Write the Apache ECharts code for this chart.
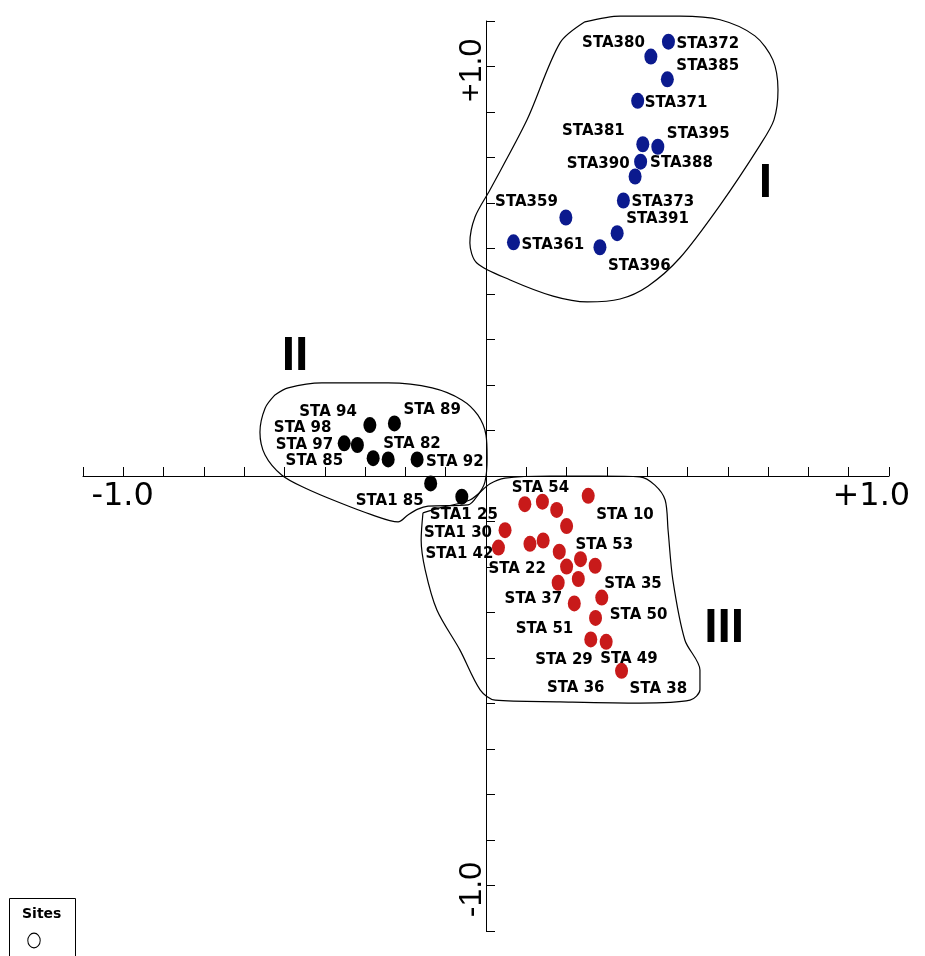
<!DOCTYPE html>
<html>
<head>
<meta charset="utf-8">
<script src="https://cdn.jsdelivr.net/npm/echarts@6/dist/echarts.min.js"></script>
<style>html,body{margin:0;padding:0;background:#fff}#c{width:925px;height:956px}</style>
</head>
<body>
<div id="c"></div>
<script>
// ---- axis ticks / labels ----
const axisTicks = [-1.1,-0.99,-0.88,-0.77,-0.66,-0.55,-0.44,-0.33,-0.22,-0.11,0,0.11,0.22,0.33,0.44,0.55,0.66,0.77,0.88,0.99,1.1];
const tickLabelValues = [-1, 1];
const tickLabels = ['-1.0', '+1.0'];

// ---- group I (blue) ----
const groupINames = ['STA372','STA380','STA385','STA371','STA381','STA395','STA390','STA388','STA373','STA359','STA391','STA361','STA396'];
const groupIX = [0.498,0.450,0.495,0.414,0.428,0.469,0.422,0.407,0.375,0.218,0.358,0.075,0.311];
const groupIY = [1.050,1.014,0.959,0.907,0.802,0.796,0.760,0.724,0.666,0.625,0.587,0.565,0.553];

// ---- group II (black) ----
const groupIINames = ['STA 94','STA 89','STA 97','STA 98','STA 85','STA 82','STA 92','STA1 85',''];
const groupIIX = [-0.317,-0.250,-0.387,-0.351,-0.308,-0.267,-0.188,-0.151,-0.066];
const groupIIY = [0.123,0.127,0.079,0.075,0.043,0.040,0.040,-0.018,-0.050];

// ---- group III (red) ----
const groupIIINames = ['STA1 25','STA 54','','STA 10','','STA1 30','STA1 42','STA 22','','','STA 53','STA 35','','','STA 37','STA 50','STA 51','STA 36','STA 29','STA 49','STA 38'];
const groupIIIX = [0.106,0.154,0.193,0.279,0.220,0.052,0.034,0.120,0.156,0.200,0.258,0.298,0.220,0.252,0.197,0.316,0.241,0.299,0.286,0.328,0.370];
const groupIIIY = [-0.068,-0.062,-0.082,-0.048,-0.121,-0.131,-0.173,-0.164,-0.156,-0.183,-0.201,-0.217,-0.219,-0.249,-0.258,-0.294,-0.308,-0.343,-0.395,-0.401,-0.471];

// ---- group outlines (data space) ----
const outlineIX = [0.270,0.366,0.529,0.639,0.734,0.783,0.797,0.786,0.748,0.639,0.529,0.442,0.366,0.276,0.183,0.066,-0.025,-0.044,-0.030,0.011,0.112,0.202,0.270];
const outlineIY = [1.098,1.112,1.112,1.103,1.064,1.006,0.933,0.861,0.800,0.655,0.527,0.459,0.428,0.421,0.435,0.474,0.515,0.563,0.626,0.692,0.861,1.047,1.098];
const outlineIIX = [-0.576,-0.540,-0.448,-0.267,-0.147,-0.066,-0.022,0.000,0.003,-0.003,-0.022,-0.049,-0.158,-0.186,-0.213,-0.240,-0.311,-0.404,-0.494,-0.557,-0.603,-0.617,-0.603,-0.576];
const outlineIIY = [0.196,0.213,0.225,0.225,0.213,0.184,0.147,0.099,0.044,-0.015,-0.046,-0.070,-0.073,-0.080,-0.094,-0.111,-0.094,-0.063,-0.029,0.002,0.051,0.106,0.164,0.196];
const outlineIIIX = [-0.172,-0.126,-0.044,0.011,0.052,0.175,0.311,0.420,0.461,0.489,0.497,0.510,0.543,0.584,0.584,0.557,0.420,0.202,0.025,-0.016,-0.071,-0.134,-0.166,-0.177,-0.172];
const outlineIIIY = [-0.089,-0.077,-0.058,-0.019,-0.005,0.000,0.000,-0.002,-0.022,-0.058,-0.131,-0.251,-0.397,-0.469,-0.517,-0.542,-0.549,-0.546,-0.542,-0.517,-0.421,-0.324,-0.227,-0.155,-0.089];

// ---- group names ----
const groupLabels = ['I','II','III'];
const groupLabelX = [0.763,-0.521,0.650];
const groupLabelY = [0.706,0.288,-0.369];

// ---- label placement (styling: pixel offset from point, text anchor) ----
const groupILabelPos = [[8,2,'left'],[-6,-13,'right'],[9,-13,'left'],[7,2,'left'],[-18,-13,'right'],[9,-13,'left'],[-11,2,'right'],[15,-13,'left'],[8,2,'left'],[-8,-15,'right'],[9,-14,'left'],[8,3,'left'],[8,19,'left']];
const groupIILabelPos = [[-13,-13,'right'],[9,-13,'left'],[-11,2,'right'],[-26,-17,'right'],[-30,3,'right'],[-5,-15,'left'],[9,3,'left'],[-7,18,'right'],[0,0,'left']];
const groupIIILabelPos = [[-27,11,'right'],[-2,-14,'center'],[0,0,'left'],[8,19,'left'],[0,0,'left'],[-13,3,'right'],[-5,7,'right'],[16,25,'right'],[0,0,'left'],[0,0,'left'],[-5,-14,'left'],[9,18,'left'],[0,0,'left'],[0,0,'left'],[4,16,'right'],[8,18,'left'],[-1,26,'right'],[9,70,'right'],[2,21,'right'],[-6,17,'left'],[8,18,'left']];
// tick-label styling offsets (px) for the x labels and y labels
const xLabelShift = [3, 19];
const yLabelShift = [0, 8];

const LABEL_FONT = 'DejaVu Sans';

function pointData(names, xs, ys, pos) {
  return names.map((n, i) => ({
    name: n,
    value: [xs[i], ys[i]],
    label: { offset: [pos[i][0], pos[i][1]], align: pos[i][2] }
  }));
}
function outline(xs, ys) { return xs.map((x, i) => [x, ys[i]]); }

const pointLabel = {
  show: true, position: 'inside', formatter: '{b}', color: '#000',
  fontFamily: LABEL_FONT, fontSize: 15, fontWeight: 'bold',
  verticalAlign: 'middle', textBorderWidth: 0
};

function scatter(name, color, data) {
  return {
    name, type: 'scatter', data, symbol: 'circle', symbolSize: [13, 16],
    itemStyle: { color, opacity: 1 }, label: pointLabel, z: 3, silent: true
  };
}
function outlineSeries(data) {
  return {
    type: 'line', data, smooth: 0.3, symbol: 'none', clip: false, silent: true,
    lineStyle: { color: '#000', width: 1.2 }, z: 1
  };
}

const axisCommon = {
  type: 'value', min: -1.1, max: 1.1, interval: 0.11,
  splitLine: { show: false },
  axisLine: { onZero: true, lineStyle: { color: '#000', width: 1 } },
  axisTick: { inside: true, length: 9, customValues: axisTicks, lineStyle: { color: '#000' } },
  axisLabel: { show: false }
};

const chart = echarts.init(document.getElementById('c'), null, { renderer: 'canvas' });
chart.setOption({
  animation: false,
  backgroundColor: '#fff',
  grid: { left: 83, right: 36, top: 21, bottom: 25, containLabel: false, outerBoundsMode: 'none' },
  xAxis: axisCommon,
  yAxis: axisCommon,
  series: [
    outlineSeries(outline(outlineIX, outlineIY)),
    outlineSeries(outline(outlineIIX, outlineIIY)),
    outlineSeries(outline(outlineIIIX, outlineIIIY)),
    scatter('I', '#0b1a8e', pointData(groupINames, groupIX, groupIY, groupILabelPos)),
    scatter('II', '#000000', pointData(groupIINames, groupIIX, groupIIY, groupIILabelPos)),
    scatter('III', '#c81a1a', pointData(groupIIINames, groupIIIX, groupIIIY, groupIIILabelPos)),
    {
      type: 'scatter', symbolSize: 0, silent: true, z: 4,
      itemStyle: { opacity: 1, color: '#000' },
      data: groupLabels.map((n, i) => ({ name: n, value: [groupLabelX[i], groupLabelY[i]] })),
      label: { show: true, position: 'inside', formatter: '{b}', color: '#000', opacity: 1,
        fontFamily: 'Liberation Sans', fontWeight: 'bold', fontSize: 48 }
    }
  ]
});

// axis tick labels at the axis values, placed through the chart's own scales
const graphics = [];
tickLabelValues.forEach((v, i) => {
  const px = chart.convertToPixel({ gridIndex: 0 }, [v, 0]);
  graphics.push({
    type: 'text', x: px[0] + xLabelShift[i], y: px[1] + 21, silent: true,
    style: { text: tickLabels[i], fill: '#000', font: '32px "DejaVu Sans"',
      textAlign: 'center', textVerticalAlign: 'middle' }
  });
  const py = chart.convertToPixel({ gridIndex: 0 }, [0, v]);
  graphics.push({
    type: 'text', x: py[0] - 14, y: py[1] + yLabelShift[i], rotation: Math.PI / 2, silent: true,
    style: { text: tickLabels[i], fill: '#000', font: '32px "Liberation Sans"',
      textAlign: 'center', textVerticalAlign: 'middle' }
  });
});
graphics.push(
  { type: 'rect', shape: { x: 9.5, y: 898.5, width: 66, height: 70 },
    style: { fill: 'none', stroke: '#000', lineWidth: 1 }, silent: true },
  { type: 'text', x: 22, y: 907, style: { text: 'Sites', fill: '#000',
    font: 'bold 14px "DejaVu Sans"', textVerticalAlign: 'top' }, silent: true },
  { type: 'circle', x: 34, y: 940.5, scaleY: 1.18, shape: { cx: 0, cy: 0, r: 6.2 },
    style: { fill: 'none', stroke: '#000', lineWidth: 1 }, silent: true }
);
chart.setOption({ graphic: graphics });
</script>
</body>
</html>
